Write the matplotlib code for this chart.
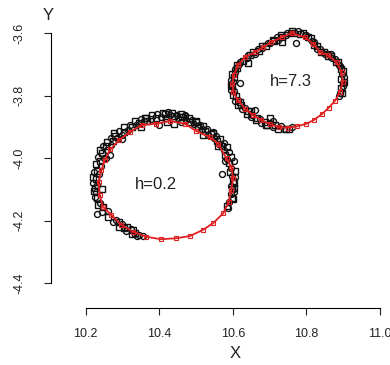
import matplotlib
matplotlib.use("Agg")
import matplotlib.pyplot as plt

plt.rcParams['font.family'] = ['Liberation Sans', 'DejaVu Sans']

# ring 1 (h=0.2): observed points
obs1_x = [10.345, 10.335, 10.322, 10.312, 10.300, 10.290, 10.355, 10.305, 10.283, 10.330,
          10.262, 10.248, 10.240, 10.232, 10.228, 10.225, 10.232, 10.227, 10.236, 10.230,
          10.242, 10.238, 10.250, 10.245, 10.258, 10.255, 10.268, 10.275, 10.285, 10.280,
          10.298, 10.305, 10.315, 10.325, 10.338, 10.345, 10.358, 10.368, 10.378, 10.392,
          10.405, 10.418, 10.428, 10.440, 10.452, 10.462, 10.472, 10.484, 10.495, 10.505,
          10.515, 10.525, 10.532, 10.540, 10.548, 10.556, 10.562, 10.570, 10.575, 10.580,
          10.585, 10.590, 10.595, 10.592, 10.598, 10.600, 10.596, 10.599, 10.594, 10.597,
          10.590, 10.585, 10.400, 10.440, 10.300, 10.520, 10.580, 10.415, 10.470, 10.360,
          10.232, 10.500, 10.545, 10.603, 10.265,
          10.380, 10.395, 10.410, 10.425, 10.435, 10.448, 10.458, 10.470, 10.480, 10.490,
          10.500, 10.510, 10.520, 10.530, 10.545, 10.555, 10.565, 10.575, 10.583, 10.590,
          10.596, 10.602, 10.605, 10.607, 10.604, 10.603, 10.600, 10.588,
          10.365, 10.350, 10.335, 10.320, 10.305, 10.292, 10.278, 10.268, 10.258, 10.248,
          10.240, 10.233, 10.228, 10.222, 10.220, 10.220, 10.222, 10.226, 10.234, 10.245,
          10.260, 10.275, 10.292, 10.310, 10.325, 10.340,
          10.420, 10.460, 10.350, 10.255, 10.245, 10.570, 10.560]
obs1_y = [-4.245, -4.240, -4.228, -4.222, -4.212, -4.205, -4.250, -4.225, -4.198, -4.232,
          -4.170, -4.158, -4.145, -4.128, -4.110, -4.095, -4.085, -4.068, -4.052, -4.040,
          -4.025, -4.010, -3.998, -3.985, -3.975, -3.962, -3.958, -3.945, -3.935, -3.930,
          -3.925, -3.915, -3.910, -3.900, -3.895, -3.887, -3.882, -3.880, -3.875, -3.872,
          -3.868, -3.870, -3.862, -3.866, -3.872, -3.868, -3.878, -3.884, -3.890, -3.898,
          -3.905, -3.912, -3.925, -3.922, -3.935, -3.945, -3.955, -3.962, -3.975, -3.990,
          -4.002, -4.015, -4.030, -4.045, -4.058, -4.072, -4.088, -4.100, -4.115, -4.128,
          -4.140, -4.155, -3.895, -3.890, -3.940, -3.925, -4.010, -3.858, -3.860, -3.870,
          -4.180, -3.882, -3.915, -4.095, -3.990,
          -3.862, -3.858, -3.855, -3.852, -3.856, -3.860, -3.857, -3.866, -3.872, -3.878,
          -3.885, -3.892, -3.898, -3.905, -3.918, -3.930, -3.940, -3.950, -3.965, -3.980,
          -3.995, -4.010, -4.040, -4.060, -4.080, -4.110, -4.130, -4.160,
          -3.870, -3.875, -3.882, -3.892, -3.900, -3.912, -3.920, -3.935, -3.948, -3.962,
          -3.975, -3.995, -4.020, -4.045, -4.060, -4.080, -4.105, -4.125, -4.150, -4.172,
          -4.190, -4.205, -4.220, -4.235, -4.242, -4.250,
          -3.885, -3.885, -3.900, -4.000, -4.100, -4.050, -3.960]

# ring 1 fitted curve
fit1_x = [10.392, 10.429, 10.469, 10.501, 10.537, 10.560, 10.583, 10.596, 10.601, 10.596,
          10.589, 10.574, 10.546, 10.519, 10.483, 10.445, 10.404, 10.365, 10.329, 10.297,
          10.270, 10.247, 10.238, 10.235, 10.243, 10.252, 10.267, 10.291, 10.320, 10.352,
          10.392]
fit1_y = [-3.889, -3.881, -3.889, -3.913, -3.932, -3.953, -4.001, -4.028, -4.065, -4.102,
          -4.140, -4.177, -4.209, -4.230, -4.250, -4.257, -4.260, -4.252, -4.236, -4.214,
          -4.182, -4.156, -4.118, -4.076, -4.038, -4.006, -3.972, -3.942, -3.916, -3.894,
          -3.889]

# ring 2 (h=7.3): observed points
obs2_x = [10.760, 10.745, 10.730, 10.715, 10.700, 10.688, 10.675, 10.665, 10.652, 10.640,
          10.632, 10.622, 10.615, 10.608, 10.602, 10.598, 10.600, 10.603, 10.605, 10.612,
          10.618, 10.628, 10.638, 10.648, 10.660, 10.670, 10.680, 10.690, 10.700, 10.712,
          10.722, 10.735, 10.745, 10.758, 10.770, 10.782, 10.795, 10.805, 10.815, 10.822,
          10.830, 10.840, 10.850, 10.860, 10.870, 10.880, 10.888, 10.893, 10.897, 10.895,
          10.900, 10.895, 10.892, 10.733, 10.773, 10.650, 10.708, 10.620, 10.868, 10.690,
          10.620, 10.612, 10.605, 10.598, 10.595, 10.594, 10.596, 10.600, 10.606, 10.615,
          10.625, 10.638, 10.650, 10.662, 10.678, 10.692, 10.708, 10.722, 10.740, 10.752,
          10.640, 10.655, 10.668, 10.680, 10.695, 10.708, 10.720, 10.732, 10.748, 10.762,
          10.778, 10.790, 10.800, 10.812, 10.820, 10.828, 10.838, 10.848, 10.858, 10.868,
          10.878, 10.886, 10.892, 10.900, 10.903, 10.902, 10.900, 10.897, 10.890,
          10.640, 10.620, 10.700, 10.660]
obs2_y = [-3.900, -3.905, -3.898, -3.895, -3.888, -3.885, -3.875, -3.870, -3.860, -3.850,
          -3.838, -3.828, -3.812, -3.800, -3.785, -3.770, -3.755, -3.740, -3.725, -3.710,
          -3.698, -3.688, -3.678, -3.670, -3.665, -3.655, -3.648, -3.640, -3.632, -3.625,
          -3.620, -3.612, -3.605, -3.600, -3.598, -3.602, -3.605, -3.612, -3.625, -3.638,
          -3.650, -3.660, -3.665, -3.672, -3.680, -3.690, -3.700, -3.715, -3.730, -3.745,
          -3.760, -3.775, -3.790, -3.627, -3.632, -3.848, -3.880, -3.820, -3.665, -3.895,
          -3.690, -3.700, -3.715, -3.730, -3.748, -3.765, -3.782, -3.798, -3.815, -3.830,
          -3.842, -3.858, -3.868, -3.878, -3.888, -3.895, -3.900, -3.905, -3.908, -3.906,
          -3.668, -3.658, -3.650, -3.640, -3.632, -3.622, -3.612, -3.605, -3.598, -3.592,
          -3.592, -3.598, -3.605, -3.615, -3.628, -3.640, -3.650, -3.658, -3.665, -3.672,
          -3.682, -3.692, -3.705, -3.720, -3.740, -3.755, -3.770, -3.790, -3.800,
          -3.695, -3.760, -3.870, -3.845]

# ring 2 fitted curve
fit2_x = [10.760, 10.796, 10.819, 10.837, 10.859, 10.882, 10.896, 10.899, 10.891, 10.878,
          10.861, 10.842, 10.820, 10.799, 10.774, 10.750, 10.725, 10.701, 10.678, 10.655,
          10.633, 10.614, 10.601, 10.599, 10.603, 10.614, 10.633, 10.660, 10.682, 10.705,
          10.733, 10.760]
fit2_y = [-3.599, -3.612, -3.633, -3.660, -3.670, -3.692, -3.724, -3.756, -3.788, -3.816,
          -3.838, -3.859, -3.878, -3.890, -3.898, -3.902, -3.901, -3.891, -3.878, -3.862,
          -3.841, -3.814, -3.788, -3.761, -3.734, -3.702, -3.676, -3.660, -3.644, -3.628,
          -3.612, -3.599]

x_ticks = [10.2, 10.4, 10.6, 10.8, 11.0]
y_ticks = [-4.4, -4.2, -4.0, -3.8, -3.6]

fig = plt.figure(figsize=(3.9, 3.65), dpi=100)
ax = fig.add_axes([0.130, 0.155, 0.857, 0.790])

for ox, oy in [(obs1_x, obs1_y), (obs2_x, obs2_y)]:
    ax.plot(ox[0::2], oy[0::2], 'o', mfc='none', mec='#111111', ms=4.3, mew=1.0, clip_on=False)
    ax.plot(ox[1::2], oy[1::2], 's', mfc='none', mec='#111111', ms=3.8, mew=1.0, clip_on=False)

for fx, fy in [(fit1_x, fit1_y), (fit2_x, fit2_y)]:
    ax.plot(fx, fy, '-s', color='#e02020', lw=1.3, mfc='none', mec='#e02020',
            ms=3.4, mew=0.8, clip_on=False)

ax.text(10.39, -4.086, 'h=0.2', fontsize=12, ha='center', va='center', color='#222222')
ax.text(10.758, -3.754, 'h=7.3', fontsize=12, ha='center', va='center', color='#222222')

ax.set_xlim(10.105, 11.0136)
ax.set_ylim(-4.482, -3.557)
ax.set_xticks(x_ticks)
ax.set_xticklabels(['10.2', '10.4', '10.6', '10.8', '11.0'])
ax.set_yticks(y_ticks)
ax.set_yticklabels(['-4.4', '-4.2', '-4.0', '-3.8', '-3.6'], rotation=90, va='center')
ax.tick_params(direction='out', length=5, width=0.8, labelsize=9, colors='#222222')
ax.tick_params(axis='x', pad=9)
ax.tick_params(axis='y', pad=13)

for s in ['top', 'right']:
    ax.spines[s].set_visible(False)
ax.spines['bottom'].set_bounds(10.2, 11.0)
ax.spines['left'].set_bounds(-4.4, -3.6)
ax.spines['bottom'].set_linewidth(0.8)
ax.spines['left'].set_linewidth(0.8)

fig.text(235 / 390, 1 - 354 / 365, 'X', fontsize=12, ha='center', va='center', color='#222222')
fig.text(48 / 390, 1 - 16 / 365, 'Y', fontsize=12, ha='center', va='center', color='#222222')

fig.savefig('out.png', dpi=100)
